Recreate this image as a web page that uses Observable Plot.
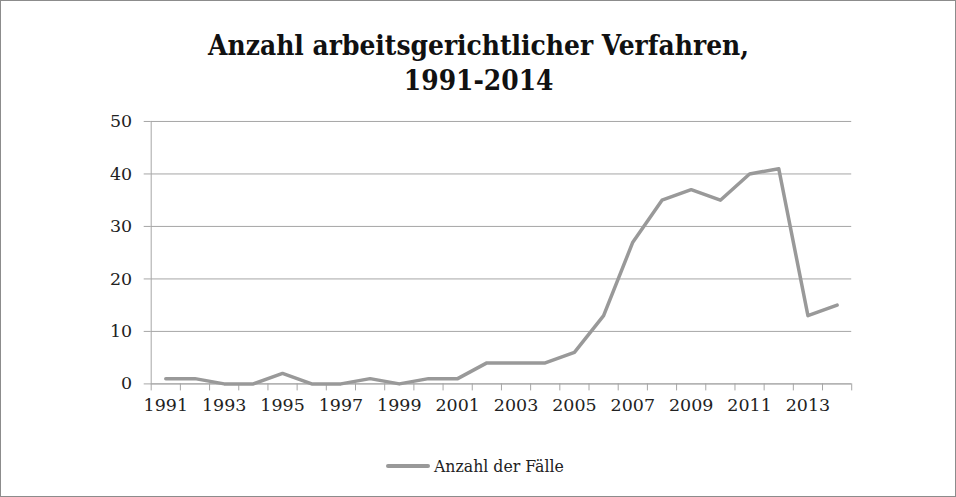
<!DOCTYPE html>
<html>
<head>
<meta charset="utf-8">
<script src="https://cdn.jsdelivr.net/npm/d3@7"></script>
<script src="https://cdn.jsdelivr.net/npm/@observablehq/plot@0.6"></script>
<style>
  html, body { margin: 0; padding: 0; background: #fff; }
  #frame { position: relative; width: 956px; height: 497px; box-sizing: border-box; border: 1.5px solid #8c8c8c; overflow: hidden; }
  #title { position: absolute; left: 0; top: 27px; width: 956px; text-align: center; font-family: "DejaVu Serif Condensed", "DejaVu Serif", serif; font-weight: bold; font-size: 27px; line-height: 35px; color: #111; }
  #title span { display: inline-block; transform: scaleX(1.03); transform-origin: center; }
  #chart { position: absolute; left: 0; top: 100px; }
  #legend { position: absolute; top: 455px; left: 385px; font-family: "DejaVu Serif Condensed", "DejaVu Serif", serif; font-size: 17.5px; color: #222; display: flex; align-items: center; }
  #legend .sw { width: 44px; height: 3.5px; background: #999; margin-right: 4px; border-radius: 2px; }
</style>
</head>
<body>
<div id="frame">
  <div id="title"><span>Anzahl arbeitsgerichtlicher Verfahren,</span><br><span>1991-2014</span></div>
  <div id="chart"></div>
  <div id="legend"><div class="sw"></div><span>Anzahl der Fälle</span></div>
</div>
<script>
const years = [1991,1992,1993,1994,1995,1996,1997,1998,1999,2000,2001,2002,2003,2004,2005,2006,2007,2008,2009,2010,2011,2012,2013,2014];
const cases = [1,1,0,0,2,0,0,1,0,1,1,4,4,4,6,13,27,35,37,35,40,41,13,15];
const xTickLabels = [1991,1993,1995,1997,1999,2001,2003,2005,2007,2009,2011,2013];
const yTicks = [0,10,20,30,40,50];
const seriesName = "Anzahl der Fälle";

const data = years.map((y, i) => ({year: y, value: cases[i]}));
const boundaries = years.map(y => y - 0.5).concat([years[years.length - 1] + 0.5]);

const chart = Plot.plot({
  width: 956,
  height: 320,
  marginLeft: 150,
  marginRight: 104,
  marginTop: 20,
  marginBottom: 37,
  style: { fontFamily: "DejaVu Serif, serif", fontSize: "17.5px", color: "#222", background: "transparent" },
  x: { domain: [boundaries[0], boundaries[boundaries.length - 1]] },
  y: { domain: [0, 50] },
  marks: [
    Plot.gridY(yTicks, { stroke: "#a6a6a6", strokeOpacity: 1 }),
    Plot.axisY({ ticks: yTicks, tickSize: 7, tickPadding: 12, stroke: "#a6a6a6", label: null, tickFormat: d => String(d) }),
    Plot.ruleX([boundaries[0]], { stroke: "#a6a6a6" }),
    Plot.ruleY([0], { stroke: "#a6a6a6" }),
    Plot.axisX({ ticks: boundaries, tickSize: 7, tickFormat: () => "", stroke: "#a6a6a6", label: null }),
    Plot.axisX({ ticks: xTickLabels, tickSize: 0, tickPadding: 15, tickFormat: d => String(d), label: null }),
    Plot.line(data, { x: "year", y: "value", stroke: "#999999", strokeWidth: 3.5, strokeLinejoin: "round", strokeLinecap: "round" })
  ]
});
document.getElementById("chart").appendChild(chart);
</script>
</body>
</html>
